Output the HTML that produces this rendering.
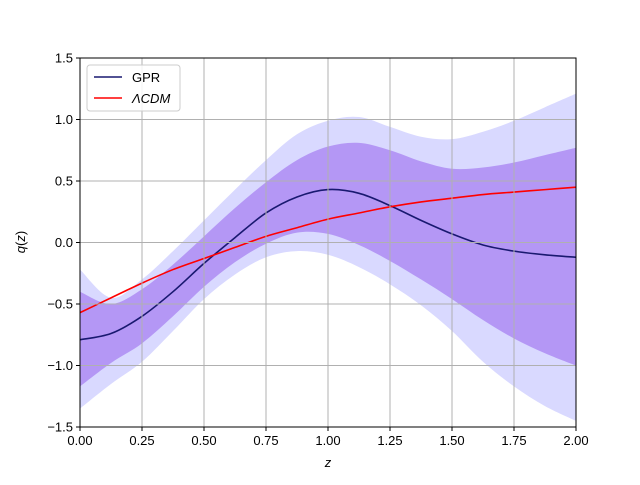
<!DOCTYPE html>
<html><head><meta charset="utf-8"><style>
body{margin:0;background:#fff}
svg text{font-family:"Liberation Sans",sans-serif;font-size:13px;fill:#000}
</style></head><body>
<svg id="c" width="640" height="480" viewBox="0 0 640 480"></svg>
<script>
const zs=[0,0.125,0.25,0.375,0.5,0.625,0.75,0.875,1.0,1.125,1.25,1.375,1.5,1.625,1.75,1.875,2.0];
const gprMean=[-0.79,-0.74,-0.6,-0.4,-0.17,0.04,0.24,0.37,0.43,0.40,0.30,0.18,0.07,-0.02,-0.07,-0.1,-0.12];
const sig1Up=[-0.4,-0.5,-0.38,-0.18,0.05,0.28,0.49,0.67,0.78,0.81,0.75,0.66,0.6,0.61,0.65,0.71,0.77];
const sig1Lo=[-1.17,-0.98,-0.82,-0.6,-0.36,-0.16,-0.01,0.08,0.07,-0.02,-0.15,-0.3,-0.46,-0.63,-0.78,-0.9,-1.0];
const sig2Up=[-0.22,-0.45,-0.3,-0.07,0.18,0.43,0.67,0.88,0.99,1.02,0.94,0.86,0.84,0.9,0.99,1.1,1.21];
const sig2Lo=[-1.35,-1.15,-0.97,-0.72,-0.46,-0.26,-0.12,-0.07,-0.1,-0.2,-0.34,-0.51,-0.72,-0.97,-1.17,-1.33,-1.45];
const lcdm=[-0.57,-0.45,-0.33,-0.22,-0.13,-0.04,0.05,0.12,0.19,0.24,0.29,0.33,0.36,0.39,0.41,0.43,0.45];
const xTicks=[0,0.25,0.5,0.75,1.0,1.25,1.5,1.75,2.0];
const xTickLabels=["0.00","0.25","0.50","0.75","1.00","1.25","1.50","1.75","2.00"];
const yTicks=[-1.5,-1.0,-0.5,0,0.5,1.0,1.5];
const yTickLabels=["\u22121.5","\u22121.0","\u22120.5","0.0","0.5","1.0","1.5"];

const L=80,R=576,T=58,B=427;
const sx=v=>L+(v-0)/(2-0)*(R-L);
const sy=v=>B-(v+1.5)/3*(B-T);
const NS="http://www.w3.org/2000/svg";
const svg=document.getElementById('c');
function mk(tag,attrs,parent){const e=document.createElementNS(NS,tag);for(const k in attrs)e.setAttribute(k,attrs[k]);(parent||svg).appendChild(e);return e;}
function smooth(xs,ys,move){
  const p=xs.map((x,i)=>[sx(x),sy(ys[i])]);
  let d=(move?"M":"L")+p[0][0]+","+p[0][1];
  for(let i=0;i<p.length-1;i++){
    const p0=p[Math.max(0,i-1)],p1=p[i],p2=p[i+1],p3=p[Math.min(p.length-1,i+2)];
    const c1=[p1[0]+(p2[0]-p0[0])/6,p1[1]+(p2[1]-p0[1])/6];
    const c2=[p2[0]-(p3[0]-p1[0])/6,p2[1]-(p3[1]-p1[1])/6];
    d+="C"+c1+" "+c2+" "+p2;
  }
  return d;
}
function band(up,lo){
  const rx=zs.slice().reverse(),rl=lo.slice().reverse();
  return smooth(zs,up,true)+smooth(rx,rl,false)+"Z";
}
const clip=mk('clipPath',{id:'cp'});mk('rect',{x:L,y:T,width:R-L,height:B-T},clip);
const g=mk('g',{'clip-path':'url(#cp)'});
const b2=mk('path',{d:band(sig2Up,sig2Lo),fill:'#d9d9ff'},g);


const b1=mk('path',{d:band(sig1Up,sig1Lo),fill:'#b497f5'},g);


xTicks.forEach(v=>{const l=mk('line',{x1:sx(v),x2:sx(v),y1:T,y2:B,stroke:'#b0b0b0','stroke-width':1});

});
yTicks.forEach(v=>{const l=mk('line',{x1:L,x2:R,y1:sy(v),y2:sy(v),stroke:'#b0b0b0','stroke-width':1});

});
const gm=mk('path',{d:smooth(zs,gprMean,true),fill:'none',stroke:'#191970','stroke-width':1.6},g);


const lc=mk('path',{d:smooth(zs,lcdm,true),fill:'none',stroke:'#ff0000','stroke-width':1.6},g);


const fr=mk('rect',{x:L,y:T,width:R-L,height:B-T,fill:'none',stroke:'#000','stroke-width':1});


xTicks.forEach((v,i)=>{mk('line',{x1:sx(v),x2:sx(v),y1:B,y2:B+4,stroke:'#000'});
const t=mk('text',{x:sx(v),y:B+18,'text-anchor':'middle'});t.textContent=xTickLabels[i];

});
yTicks.forEach((v,i)=>{mk('line',{x1:L-4,x2:L,y1:sy(v),y2:sy(v),stroke:'#000'});
const t=mk('text',{x:L-7,y:sy(v)+4.5,'text-anchor':'end'});t.textContent=yTickLabels[i];

});
</script>
<svg width="640" height="480" style="position:absolute;left:0;top:0">
<text x="328" y="467" text-anchor="middle" font-style="italic">z</text>
<text x="25" y="242" text-anchor="middle" transform="rotate(-90 25 242)"><tspan font-style="italic">q</tspan>(<tspan font-style="italic">z</tspan>)</text>
<g>
<rect x="87" y="65" width="93" height="46" rx="3" fill="#fff" fill-opacity="0.85" stroke="#ccc"/>
<line x1="94" x2="122" y1="77" y2="77" stroke="#191970" stroke-width="1.6"/>
<text x="132" y="82">GPR</text>
<line x1="94" x2="122" y1="98" y2="98" stroke="#ff0000" stroke-width="1.6"/>
<text x="132" y="103" font-style="italic">ΛCDM</text>
</g>
</svg>
</body></html>
